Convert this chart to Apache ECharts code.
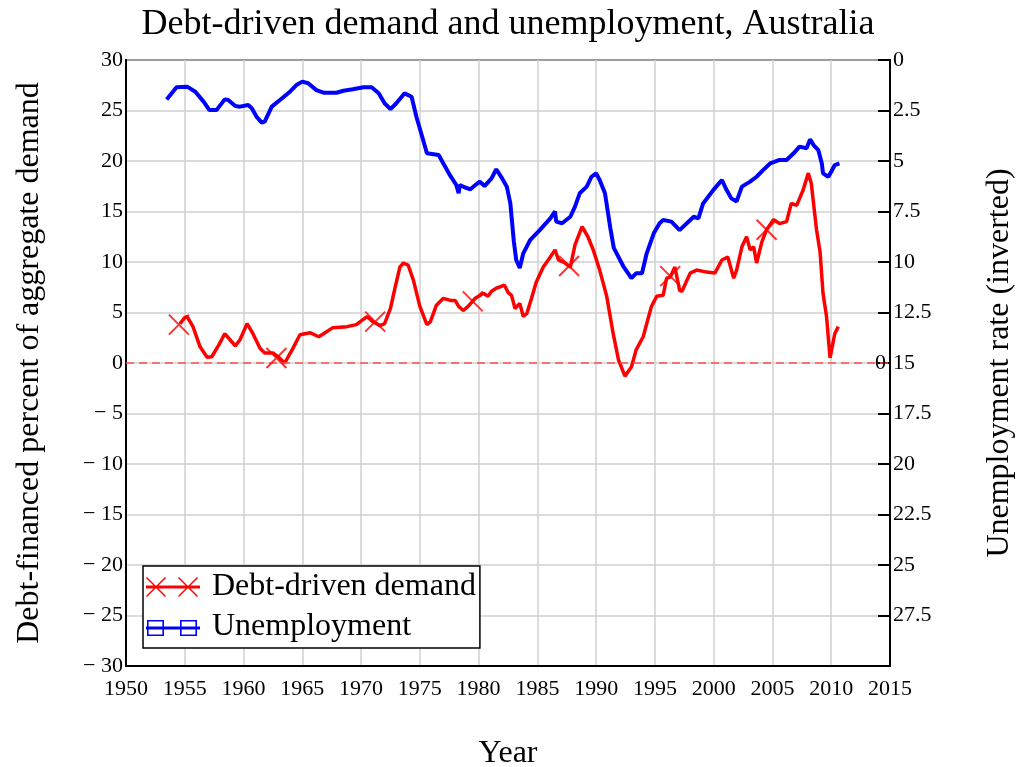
<!DOCTYPE html>
<html>
<head>
<meta charset="utf-8">
<script src="https://cdn.jsdelivr.net/npm/echarts@6/dist/echarts.min.js"></script>
<style>html,body{margin:0;padding:0;background:#fff;overflow:hidden}#c{width:1016px;height:767px}</style>
</head>
<body>
<div id="c"></div>
<script>
// Debt-driven demand (% of aggregate demand), [year, value]
const debtDemand = [
[1954.6,3.9],[1955.0,4.5],[1955.2,4.6],[1955.7,3.6],[1956.3,1.6],[1956.9,0.56],[1957.3,0.62],[1957.9,1.8],
[1958.4,2.9],[1958.85,2.3],[1959.3,1.7],[1959.7,2.3],[1960.3,3.9],[1960.8,2.9],[1961.4,1.45],[1961.8,1.0],
[1962.5,1.0],[1963.1,0.45],[1963.5,0.0],[1964.2,1.45],[1964.8,2.8],[1965.65,3.0],[1966.4,2.6],[1966.8,2.9],
[1967.6,3.5],[1968.8,3.6],[1969.6,3.8],[1970.5,4.6],[1971.0,4.1],[1971.6,3.7],[1972.0,3.9],[1972.5,5.4],
[1972.9,7.5],[1973.3,9.5],[1973.6,9.9],[1974.0,9.7],[1974.45,8.2],[1975.0,5.6],[1975.6,3.8],[1975.9,4.1],
[1976.4,5.7],[1977.0,6.4],[1977.6,6.2],[1978.0,6.2],[1978.3,5.6],[1978.7,5.2],[1979.1,5.6],[1979.7,6.4],
[1980.0,6.6],[1980.4,6.9],[1980.8,6.6],[1981.1,7.1],[1981.5,7.4],[1982.2,7.7],[1982.5,7.0],[1982.8,6.7],
[1983.1,5.4],[1983.5,5.9],[1983.8,4.6],[1984.1,4.9],[1984.5,6.4],[1984.9,8.0],[1985.5,9.5],[1986.1,10.5],
[1986.5,11.2],[1986.8,10.2],[1987.35,9.9],[1987.8,9.5],[1988.2,11.7],[1988.8,13.5],[1989.3,12.5],[1989.75,11.2],
[1990.3,9.2],[1990.9,6.6],[1991.45,2.9],[1991.9,0.3],[1992.45,-1.3],[1993.0,-0.4],[1993.4,1.3],[1994.0,2.6],
[1994.7,5.6],[1995.15,6.6],[1995.7,6.7],[1996.0,8.4],[1996.3,8.5],[1996.7,9.5],[1997.1,7.2],[1997.3,7.1],
[1998.0,8.9],[1998.55,9.2],[1999.4,9.0],[2000.1,8.9],[2000.7,10.2],[2001.2,10.5],[2001.7,8.4],[2001.95,9.2],
[2002.4,11.5],[2002.8,12.5],[2003.1,11.2],[2003.4,11.5],[2003.65,9.9],[2004.1,12.0],[2004.5,13.2],[2005.1,14.2],
[2005.6,13.8],[2006.2,14.0],[2006.6,15.8],[2007.06,15.6],[2007.6,17.1],[2008.05,18.8],[2008.3,17.8],[2008.75,13.2],
[2009.05,11.0],[2009.3,6.9],[2009.6,4.6],[2009.9,0.5],[2010.2,2.3],[2010.3,2.9],[2010.6,3.6]
];
// X markers on the debt-driven demand line
const debtMarkers = [[1954.5,3.8],[1962.8,0.5],[1971.2,4.1],[1979.5,6.1],[1987.7,9.6],[1996.3,8.6],[2004.5,13.2]];
// Unemployment rate (%), [year, value]
const unemployment = [
[1953.46,1.95],[1954.3,1.35],[1955.2,1.32],[1955.9,1.57],[1956.6,2.06],[1957.1,2.48],[1957.7,2.48],[1958.4,1.95],
[1958.7,1.98],[1959.3,2.28],[1959.7,2.31],[1960.4,2.23],[1960.7,2.39],[1961.1,2.8],[1961.55,3.1],[1961.8,3.05],
[1962.4,2.31],[1963.1,1.98],[1963.95,1.57],[1964.5,1.24],[1965.0,1.07],[1965.5,1.15],[1966.2,1.49],[1966.8,1.62],
[1967.9,1.62],[1968.5,1.52],[1969.3,1.45],[1970.2,1.35],[1970.9,1.35],[1971.5,1.65],[1972.0,2.14],[1972.5,2.43],
[1973.0,2.14],[1973.7,1.65],[1974.3,1.82],[1974.7,2.8],[1975.2,3.8],[1975.6,4.62],[1976.6,4.7],[1977.0,5.12],
[1977.6,5.74],[1978.1,6.19],[1978.3,6.6],[1978.4,6.19],[1978.8,6.3],[1979.3,6.4],[1979.7,6.2],[1980.1,6.02],
[1980.5,6.24],[1981.1,5.86],[1981.5,5.41],[1982.0,5.86],[1982.4,6.27],[1982.7,7.1],[1983.0,9.0],[1983.2,9.9],
[1983.5,10.3],[1983.8,9.57],[1984.4,8.9],[1985.2,8.42],[1986.1,7.84],[1986.5,7.5],[1986.6,8.0],[1987.1,8.08],
[1987.8,7.76],[1988.2,7.26],[1988.6,6.6],[1989.2,6.27],[1989.6,5.78],[1990.0,5.61],[1990.3,5.94],[1990.75,6.6],
[1991.2,8.3],[1991.5,9.3],[1992.3,10.2],[1993.0,10.8],[1993.4,10.56],[1993.9,10.56],[1994.3,9.57],[1994.9,8.58],
[1995.4,8.08],[1995.7,7.92],[1996.4,8.0],[1997.1,8.42],[1998.3,7.76],[1998.7,7.84],[1999.1,7.1],[1999.96,6.44],
[2000.7,5.94],[2001.1,6.44],[2001.5,6.85],[2001.95,7.0],[2002.4,6.27],[2003.1,6.02],[2003.65,5.78],[2004.2,5.45],
[2004.8,5.12],[2005.6,4.95],[2006.2,4.95],[2006.8,4.62],[2007.3,4.29],[2007.9,4.37],[2008.2,3.93],[2008.5,4.21],
[2008.9,4.46],[2009.2,5.12],[2009.3,5.61],[2009.75,5.78],[2010.0,5.53],[2010.3,5.2],[2010.7,5.12]
];
const titleText = 'Debt-driven demand and unemployment, Australia';
const xName = 'Year';
const leftName = 'Debt-financed percent of aggregate demand';
const rightName = 'Unemployment rate (inverted)';
const seriesNames = ['Debt-driven demand', 'Unemployment'];

const FONT = "'Liberation Serif', 'Times New Roman', serif";
const xIcon = 'path://M0,8.5L54,8.5L54,11.5L0,11.5Z' +
  'M1,0L20,19L19,20L0,1Z M19,0L20,1L1,20L0,19Z' +
  'M33,0L52,19L51,20L32,1Z M51,0L52,1L33,20L32,19Z';
const sqIcon = 'path://M0,0L54,0L54,0.01L0,0.01Z M0,8.5L54,8.5L54,11.5L0,11.5Z' +
  'M1,2L18,2L18,18L1,18Z M2.6,3.6L2.6,16.4L16.4,16.4L16.4,3.6Z' +
  'M34,2L51,2L51,18L34,18Z M35.6,3.6L35.6,16.4L49.4,16.4L49.4,3.6Z';

const chart = echarts.init(document.getElementById('c'), null, {renderer: 'canvas'});
chart.setOption({
  backgroundColor: '#fff',
  animation: false,
  textStyle: {fontFamily: FONT},
  title: {
    text: titleText, left: 'center', top: 2,
    textStyle: {fontFamily: FONT, fontSize: 36, fontWeight: 'normal', color: '#000'}
  },
  grid: {left: 126, right: 126, top: 60, bottom: 101, outerBoundsMode: 'none', containLabel: false,
    show: true, borderColor: '#000', borderWidth: 2, backgroundColor: 'transparent'},
  legend: {
    orient: 'vertical', left: 143, top: 566,
    backgroundColor: '#fff', borderColor: '#000', borderWidth: 1.5, borderRadius: 0,
    padding: [5, 4, 5, 3], itemGap: 8, itemWidth: 54, itemHeight: 20,
    textStyle: {fontFamily: FONT, fontSize: 32, color: '#000', lineHeight: 32, padding: [0, 0, 0, 7]},
    data: [
      {name: seriesNames[0], icon: xIcon, itemStyle: {color: '#ff0000', borderWidth: 0}},
      {name: seriesNames[1], icon: sqIcon, itemStyle: {color: '#0000ff', borderWidth: 0}}
    ],
    selectedMode: false
  },
  xAxis: {
    type: 'value', min: 1950, max: 2015, interval: 5,
    name: xName, nameLocation: 'middle', nameGap: 72,
    nameTextStyle: {fontFamily: FONT, fontSize: 32, color: '#000', verticalAlign: 'top'},
    axisLine: {show: true, onZero: false, lineStyle: {color: '#000', width: 2}},
    axisTick: {show: false},
    axisLabel: {fontFamily: FONT, fontSize: 22, color: '#000', margin: 12, formatter: v => String(v)},
    splitLine: {show: true, lineStyle: {color: '#d0d0d0', width: 1.5}}
  },
  yAxis: [
    {
      type: 'value', min: -30, max: 30, interval: 5, position: 'left',
      name: leftName, nameLocation: 'middle', nameGap: 80, nameRotate: 90,
      nameTextStyle: {fontFamily: FONT, fontSize: 32, color: '#000'},
      axisLine: {show: true, onZero: false, lineStyle: {color: '#000', width: 2}},
      axisTick: {show: false},
      axisLabel: {fontFamily: FONT, fontSize: 22, color: '#000', margin: 3,
        formatter: v => v < 0 ? '\u2212 ' + Math.abs(v) : String(v)},
      splitLine: {show: true, lineStyle: {color: '#d0d0d0', width: 1.5}}
    },
    {
      type: 'value', min: 0, max: 30, interval: 2.5, inverse: true, position: 'right',
      name: rightName, nameLocation: 'middle', nameGap: 94, nameRotate: 90,
      nameTextStyle: {fontFamily: FONT, fontSize: 32, color: '#000'},
      axisLine: {show: true, onZero: false, lineStyle: {color: '#000', width: 2}},
      axisTick: {show: true, inside: true, length: 12, lineStyle: {color: '#000', width: 2}},
      axisLabel: {fontFamily: FONT, fontSize: 22, color: '#000', margin: 3,
        formatter: v => v === 30 ? '' : String(v)},
      splitLine: {show: false}
    }
  ],
  series: [
    {
      name: seriesNames[1], type: 'line', yAxisIndex: 1, data: unemployment,
      showSymbol: false, symbol: 'none', smooth: false,
      itemStyle: {color: '#0000ff'}, lineStyle: {color: '#0000ff', width: 4}, z: 3
    },
    {
      name: seriesNames[0], type: 'line', yAxisIndex: 0, data: debtDemand,
      showSymbol: false, symbol: 'none', smooth: false,
      itemStyle: {color: '#ff0000'}, lineStyle: {color: '#ff0000', width: 3.5}, z: 4,
      markLine: {
        silent: true, symbol: 'none',
        lineStyle: {color: '#ff5050', width: 1.5, type: [8, 5]},
        label: {show: true, position: 'end', formatter: '0', distance: -15, color: '#000', fontFamily: FONT, fontSize: 22},
        data: [{yAxis: 0}]
      }
    },
    {
      name: seriesNames[0], type: 'scatter', yAxisIndex: 0, data: debtMarkers,
      symbol: 'path://M0,0L20,20M20,0L0,20', symbolSize: 20,
      itemStyle: {color: 'rgba(0,0,0,0)', borderColor: '#ff0000', borderWidth: 2}, z: 5
    }
  ]
});
</script>
</body>
</html>
